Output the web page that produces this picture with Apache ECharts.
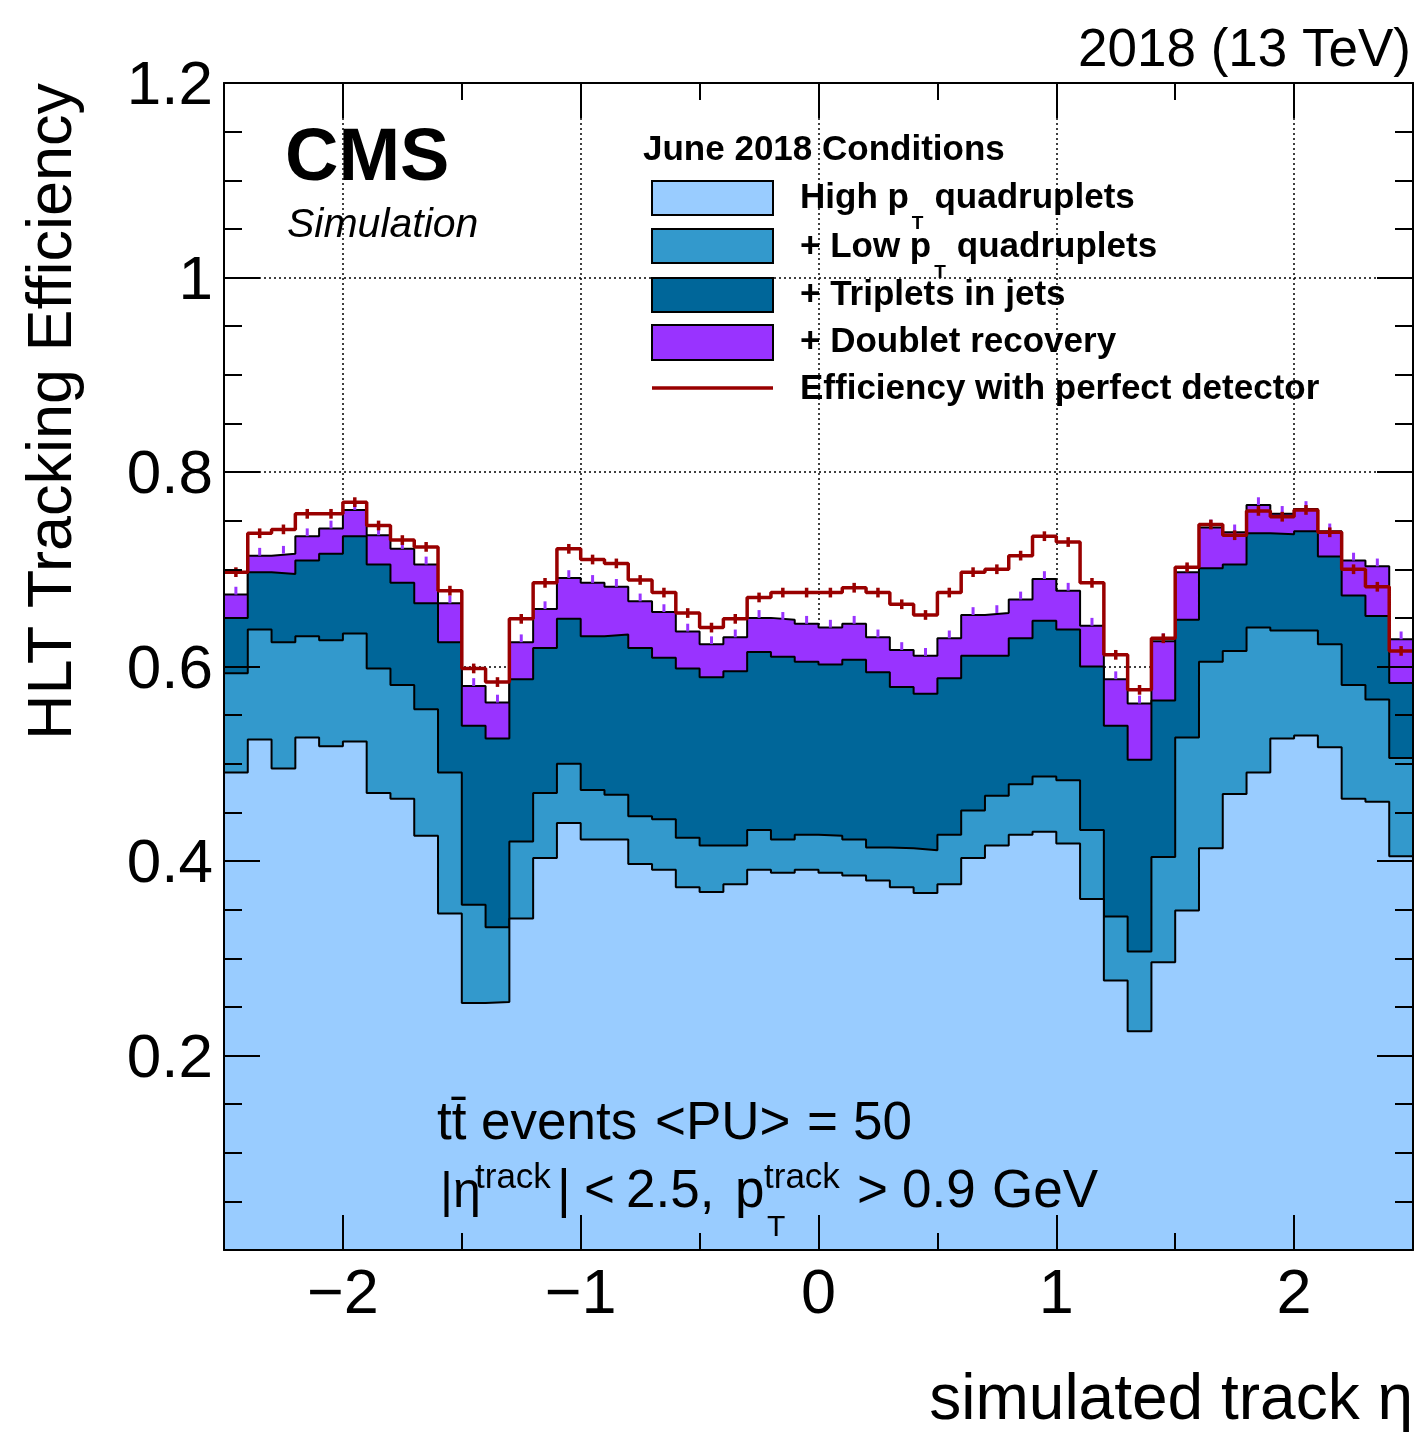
<!DOCTYPE html>
<html><head><meta charset="utf-8">
<script src="https://cdn.jsdelivr.net/npm/echarts@6/dist/echarts.min.js"></script>
<style>html,body{margin:0;padding:0;background:#fff}#c{width:1424px;height:1433px}</style>
</head><body><div id="c"></div>
<script>
// ---- binning ----
const ETA_MIN = -2.5, ETA_MAX = 2.5, N_BINS = 50;

// ---- cumulative efficiencies per eta bin ----
const highPtQuad = [0.491,0.525,0.495,0.527,0.518,0.523,0.470,0.464,0.426,0.346,
  0.254,0.255,0.341,0.403,0.439,0.422,0.422,0.397,0.391,0.373,
  0.368,0.376,0.391,0.388,0.391,0.388,0.385,0.380,0.373,0.367,
  0.376,0.403,0.416,0.427,0.430,0.418,0.361,0.277,0.225,0.296,
  0.349,0.413,0.469,0.491,0.526,0.529,0.517,0.464,0.461,0.405];
const plusLowPtQuad = [0.593,0.638,0.625,0.631,0.627,0.634,0.598,0.581,0.556,0.491,
  0.355,0.332,0.420,0.470,0.500,0.473,0.468,0.446,0.443,0.424,
  0.416,0.416,0.432,0.422,0.427,0.426,0.422,0.414,0.413,0.411,
  0.427,0.452,0.467,0.479,0.487,0.483,0.432,0.343,0.307,0.404,
  0.527,0.605,0.616,0.640,0.637,0.637,0.623,0.581,0.566,0.506];
const plusTripletsJets = [0.650,0.697,0.695,0.709,0.716,0.734,0.705,0.686,0.665,0.625,
  0.539,0.526,0.587,0.619,0.649,0.631,0.633,0.619,0.609,0.598,
  0.589,0.595,0.615,0.610,0.605,0.602,0.607,0.594,0.579,0.572,
  0.588,0.611,0.611,0.629,0.647,0.638,0.600,0.539,0.504,0.565,
  0.648,0.701,0.705,0.737,0.736,0.739,0.713,0.673,0.652,0.583];
const plusDoubletRecovery = [0.674,0.714,0.716,0.734,0.742,0.761,0.735,0.721,0.705,0.665,
  0.580,0.563,0.625,0.659,0.691,0.686,0.682,0.667,0.656,0.636,
  0.623,0.630,0.650,0.648,0.644,0.640,0.644,0.630,0.617,0.611,
  0.629,0.653,0.655,0.669,0.690,0.678,0.642,0.587,0.562,0.626,
  0.697,0.743,0.738,0.766,0.757,0.762,0.739,0.709,0.703,0.628];
const perfectDetector = [0.697,0.737,0.741,0.757,0.757,0.769,0.745,0.730,0.723,0.678,
  0.598,0.584,0.649,0.686,0.721,0.710,0.706,0.689,0.676,0.655,
  0.640,0.649,0.671,0.676,0.676,0.676,0.681,0.676,0.664,0.653,
  0.676,0.697,0.700,0.714,0.734,0.728,0.686,0.612,0.576,0.629,
  0.702,0.746,0.735,0.760,0.754,0.761,0.738,0.700,0.682,0.616];
const PERFECT_ERR = 0.005;   // half-length of error bars on perfect-detector curve
const DOUBLET_ERR = 0.008;   // visible upper half of doublet-recovery error bars

// ---- ticks ----
const xMajorTicks = [-2, -1, 0, 1, 2];
const xMinorTicks = [-1.5, -0.5, 0.5, 1.5];
const Y_MIN = 0, Y_MAX = 1.2, Y_STEP = 0.2;

// ---- helpers ----
const BW = (ETA_MAX - ETA_MIN) / N_BINS;
const edge = i => +(ETA_MIN + i * BW).toFixed(6);
const center = i => +(ETA_MIN + (i + 0.5) * BW).toFixed(6);
function stepData(vals) {
  const d = [];
  vals.forEach((v, i) => { d.push([edge(i), v], [edge(i + 1), v]); });
  return d;
}
const FONT = '"Liberation Sans", Arial, Helvetica, sans-serif';
const MID = 0.3465, DY = 3;
const mctx = document.createElement('canvas').getContext('2d');
function fontStr(size, o) { return `${o.style || 'normal'} ${o.weight || 'normal'} ${size}px ${FONT}`; }
function tw(text, size, o = {}) { mctx.font = fontStr(size, o); return mctx.measureText(text).width; }
function txt(text, x, base, size, o = {}) {
  return { type: 'text', x: x, y: base + DY - MID * size, z: 30, silent: true,
    style: { text: text, font: fontStr(size, o), fill: o.fill || '#000', align: o.align || 'left', verticalAlign: 'middle' } };
}

const C_LIGHT = '#99ccff', C_MED = '#3399cc', C_DARK = '#006699', C_PURP = '#9933ff', C_RED = '#990000';

function hist(name, vals, color, z) {
  return { type: 'line', name: name, data: stepData(vals), xAxisIndex: 0, yAxisIndex: 0,
    symbol: 'none', showSymbol: false, silent: true, z: z,
    lineStyle: { color: '#000', width: 2 },
    areaStyle: { color: color, opacity: 1, origin: 'start' } };
}
function errSeries(vals, lo, hi, color, width, z) {
  return { type: 'custom', xAxisIndex: 0, yAxisIndex: 0, silent: true, z: z,
    data: vals.map((v, i) => [center(i), v]),
    renderItem: function (params, api) {
      const c = api.value(0), v = api.value(1);
      const p1 = api.coord([c, v - lo]), p2 = api.coord([c, v + hi]);
      return { type: 'line', shape: { x1: p1[0], y1: p1[1], x2: p2[0], y2: p2[1] },
        style: { stroke: color, lineWidth: width } };
    } };
}

const xBase = { type: 'value', min: ETA_MIN, max: ETA_MAX, gridIndex: 0 };
const frameLine = { show: true, onZero: false, lineStyle: { color: '#000', width: 2 } };
const noLine = { show: false, onZero: false };
const dotted = { show: true, lineStyle: { color: '#000', width: 1.5, type: [2, 3] } };

const xAxes = [
  Object.assign({}, xBase, { position: 'bottom', z: 0, axisLine: noLine,
    axisTick: { show: false, customValues: xMajorTicks },
    axisLabel: { customValues: xMajorTicks, margin: 14, color: '#000', fontSize: 63, fontFamily: FONT,
      formatter: v => (v < 0 ? '\u2212' + (-v) : String(v)) },
    splitLine: dotted }),
  Object.assign({}, xBase, { position: 'bottom', z: 10, axisLine: frameLine,
    axisTick: { show: true, inside: true, length: 35, customValues: xMajorTicks, lineStyle: { color: '#000', width: 2 } },
    axisLabel: { show: false }, splitLine: { show: false } }),
  Object.assign({}, xBase, { position: 'bottom', z: 10, axisLine: noLine,
    axisTick: { show: true, inside: true, length: 17, customValues: xMinorTicks, lineStyle: { color: '#000', width: 2 } },
    axisLabel: { show: false }, splitLine: { show: false } }),
  Object.assign({}, xBase, { position: 'top', z: 10, axisLine: frameLine,
    axisTick: { show: true, inside: true, length: 35, customValues: xMajorTicks, lineStyle: { color: '#000', width: 2 } },
    axisLabel: { show: false }, splitLine: { show: false } }),
  Object.assign({}, xBase, { position: 'top', z: 10, axisLine: noLine,
    axisTick: { show: true, inside: true, length: 17, customValues: xMinorTicks, lineStyle: { color: '#000', width: 2 } },
    axisLabel: { show: false }, splitLine: { show: false } })
];
const yBase = { type: 'value', min: Y_MIN, max: Y_MAX, interval: Y_STEP, gridIndex: 0 };
const yFrame = pos => Object.assign({}, yBase, { position: pos, z: 10, axisLine: frameLine,
  axisTick: { show: true, inside: true, length: 36, lineStyle: { color: '#000', width: 2 } },
  minorTick: { show: true, splitNumber: 4, length: 18, lineStyle: { color: '#000', width: 2 } },
  axisLabel: { show: false }, splitLine: { show: false } });
const yAxes = [
  Object.assign({}, yBase, { position: 'left', z: 0, axisLine: noLine, axisTick: { show: false },
    axisLabel: { margin: 11, color: '#000', fontSize: 62, fontFamily: FONT, verticalAlign: 'top', lineHeight: 8,
      formatter: v => (Math.abs(v) < 1e-9 ? '' : (Math.abs(v - 1) < 1e-9 ? '1' : v.toFixed(1))) },
    splitLine: dotted }),
  yFrame('left'), yFrame('right')
];

// ---- text / legend graphics ----
const G = [];
G.push(txt('2018 (13 TeV)', 1411, 67, 53, { align: 'right' }));
G.push(txt('CMS', 285, 182, 74, { weight: 'bold' }));
G.push(txt('Simulation', 287, 237, 41, { style: 'italic' }));
G.push({ type: 'text', x: 75, y: 83, rotation: Math.PI / 2, z: 30, silent: true,
  style: { text: 'HLT Tracking Efficiency', x: 0, y: -MID * 63, font: fontStr(63, {}), fill: '#000', align: 'right', verticalAlign: 'middle' } });
G.push(txt('simulated track \u03b7', 1413, 1421, 64, { align: 'right' }));

// legend
const LX = 652, LW = 121;
G.push(txt('June 2018 Conditions', 643, 159, 35, { weight: 'bold' }));
const boxes = [[181, 34, C_LIGHT], [229, 34, C_MED], [278, 34, C_DARK], [325, 35, C_PURP]];
boxes.forEach(b => G.push({ type: 'rect', z: 30, silent: true, shape: { x: LX, y: b[0], width: LW, height: b[1] },
  style: { fill: b[2], stroke: '#000', lineWidth: 2 } }));
G.push({ type: 'line', z: 30, silent: true, shape: { x1: LX, y1: 388, x2: LX + LW, y2: 388 }, style: { stroke: C_RED, lineWidth: 3.5 } });
const LS = 35, LB = { weight: 'bold' };
function ptEntry(pre, post, base) {
  let x = 800;
  G.push(txt(pre, x, base, LS, LB)); x += tw(pre, LS, LB) + 3;
  G.push(txt('T', x, base + 20, 19, LB)); x += tw('T', 19, LB) + 11;
  G.push(txt(post, x, base, LS, LB));
}
ptEntry('High p', 'quadruplets', 207);
ptEntry('+ Low p', 'quadruplets', 256);
G.push(txt('+ Triplets in jets', 800, 304, LS, LB));
G.push(txt('+ Doublet recovery', 800, 351, LS, LB));
G.push(txt('Efficiency with perfect detector', 800, 398, LS, LB));

// bottom annotation
const BS = 53;
G.push(txt('tt\u0304', 437, 1140, BS));
G.push(txt('events', 481, 1140, BS));
G.push(txt('<PU>', 655, 1140, BS));
G.push(txt('=', 807, 1140, BS));
G.push(txt('50', 853, 1140, BS));
G.push(txt('|\u03b7', 440, 1208, 50));
G.push(txt('track', 475, 1187, 35));
G.push(txt('|', 557, 1208, BS));
G.push(txt('<', 584, 1208, BS));
G.push(txt('2.5,', 626, 1208, BS));
G.push(txt('p', 735, 1208, BS));
G.push(txt('track', 764, 1187, 35));
G.push(txt('T', 767, 1235, 30));
G.push(txt('>', 857, 1208, BS));
G.push(txt('0.9', 902, 1208, BS));
G.push(txt('GeV', 992, 1208, BS));

const chart = echarts.init(document.getElementById('c'), null, { renderer: 'canvas' });
chart.setOption({
  animation: false,
  backgroundColor: '#fff',
  grid: { left: 224, top: 83, width: 1189, height: 1167, containLabel: false },
  xAxis: xAxes,
  yAxis: yAxes,
  series: [
    hist('+ Doublet recovery', plusDoubletRecovery, C_PURP, 2),
    hist('+ Triplets in jets', plusTripletsJets, C_DARK, 3),
    hist('+ Low pT quadruplets', plusLowPtQuad, C_MED, 4),
    hist('High pT quadruplets', highPtQuad, C_LIGHT, 5),
    errSeries(plusDoubletRecovery, 0, DOUBLET_ERR, C_PURP, 3, 6),
    { type: 'line', name: 'Efficiency with perfect detector', data: stepData(perfectDetector),
      xAxisIndex: 0, yAxisIndex: 0, symbol: 'none', showSymbol: false, silent: true, z: 7,
      lineStyle: { color: C_RED, width: 3.5 } },
    errSeries(perfectDetector, PERFECT_ERR, PERFECT_ERR, C_RED, 3.5, 8)
  ],
  graphic: G
});
</script>
</body></html>
